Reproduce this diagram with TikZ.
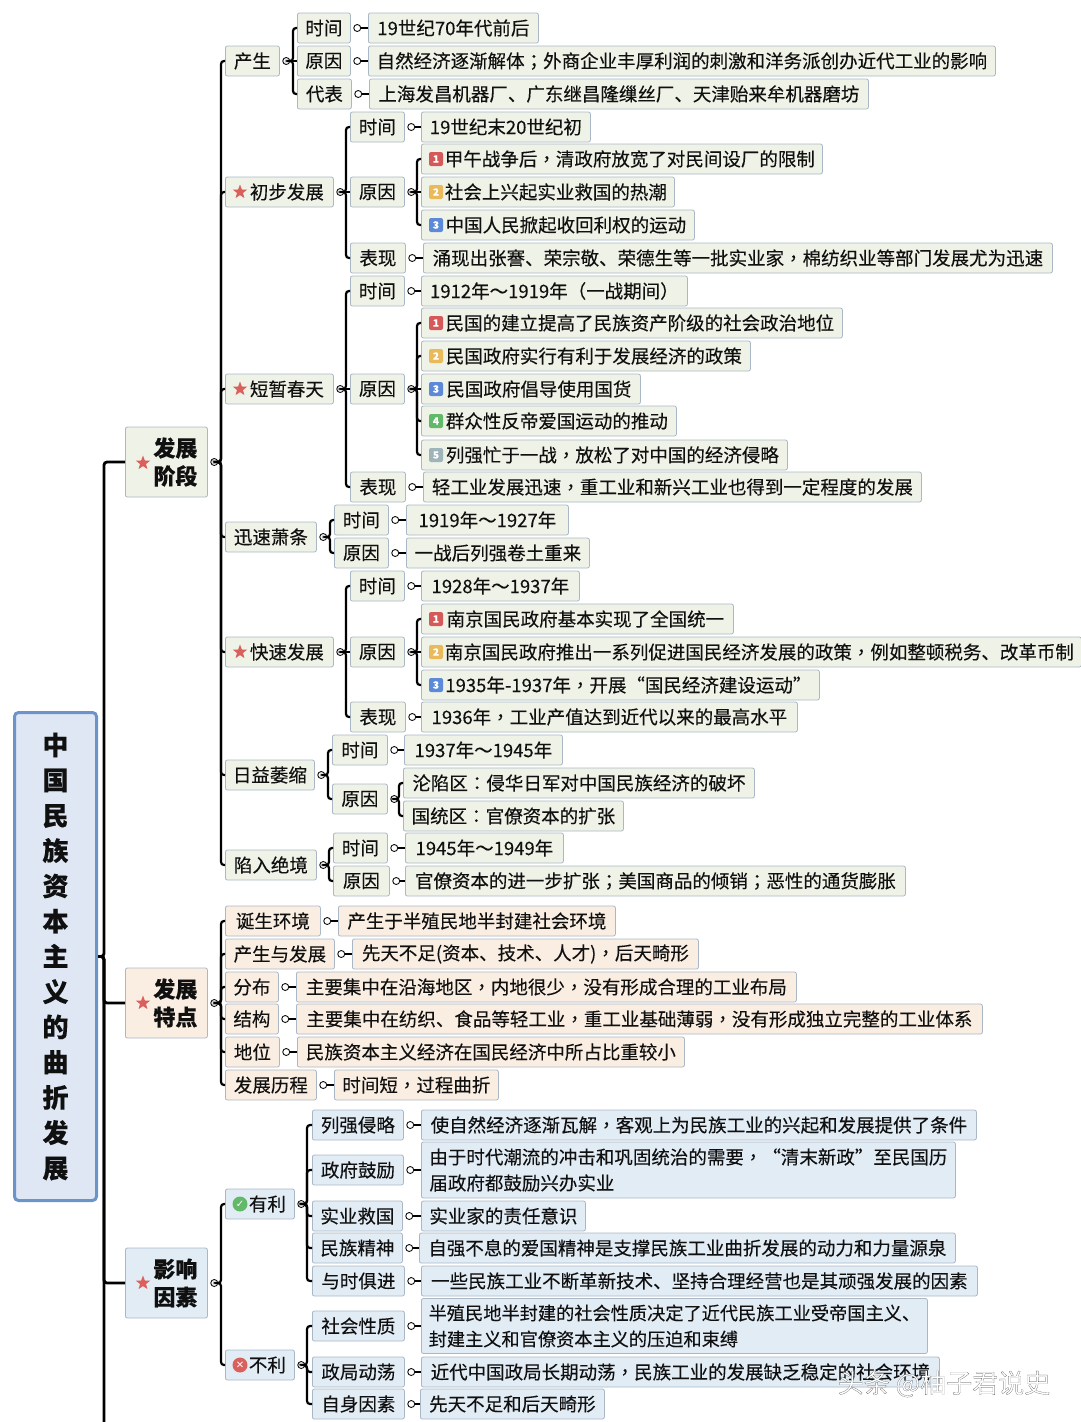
\documentclass[tikz,border=0pt]{standalone}
\usepackage{fontspec}
\setmainfont{Noto Sans CJK SC}[FakeBold=0.2]
\newfontfamily\symfont{DejaVu Sans}
\newfontfamily\tcfont{Noto Sans CJK TC}[FakeBold=0.2]
\newfontfamily\waterfont{Noto Sans CJK SC}[FakeBold=0.5]
\newcommand{\dou}{{\tcfont ，}}
\newcommand{\fen}{{\tcfont ；}}
\newcommand{\mao}{{\tcfont ：}}
\usetikzlibrary{positioning,calc,shapes.geometric}
\definecolor{ink}{HTML}{101010}
\definecolor{edgegrey}{HTML}{A9B7C6}
\definecolor{stagefill}{HTML}{EFF2E6}
\definecolor{traitfill}{HTML}{FAEEE3}
\definecolor{factorfill}{HTML}{E2ECF5}
\definecolor{rootfill}{HTML}{DEE7F3}
\definecolor{rootedge}{HTML}{6C94C8}
\definecolor{starred}{HTML}{D9605C}
\definecolor{prioA}{HTML}{D6595A}
\definecolor{prioB}{HTML}{E9B95A}
\definecolor{prioC}{HTML}{5D8AD8}
\definecolor{prioD}{HTML}{63B96A}
\definecolor{prioE}{HTML}{9FB3BB}
\tikzset{
  chip/.style={rounded corners=2pt,line width=0.8pt,draw=edgegrey,minimum height=30,inner xsep=2pt,inner ysep=0pt,anchor=west,text=ink},
  stage/.style={chip,fill=stagefill},
  trait/.style={chip,fill=traitfill},
  factor/.style={chip,fill=factorfill},
  major/.style={minimum width=82,minimum height=70,align=center,font=\fontsize{22}{28}\bfseries\selectfont},
  knob/.style={circle,draw=ink,fill=white,line width=0.9pt,inner sep=0pt,minimum size=7},
  limb/.style={draw=black,line width=2.8pt,rounded corners=3pt},
  twig/.style={draw=black,line width=2.2pt,rounded corners=3pt},
  starmark/.style={star,star points=5,star point ratio=2.4,fill=starred,inner sep=0pt,minimum size=15},
  prio/.style={rounded corners=2pt,fill=#1,minimum size=14,inner sep=0pt,text=white,font=\fontsize{10}{10}\bfseries\selectfont},
  mark/.style={circle,fill=#1,minimum size=15,inner sep=0pt,text=white,font=\fontsize{10}{10}\symfont}
}
% knob beside the parent, then one line to each kid (straight when level)
\newcommand{\branch}[3][4]{%
  \node[knob,right=2.5pt of #2] (#2K) {};
  \foreach \kid in {#3}{
    \path (#2K.east); \pgfgetlastxy{\kx}{\ky}
    \path (\kid.west); \pgfgetlastxy{\cx}{\cy}
    \pgfmathparse{abs(\ky-\cy)<1?1:0}
    \ifnum\pgfmathresult=1
      \draw[twig,sharp corners] (#2K.east) -- (\kid.west);
    \else
      \draw[twig] (#2K.east) -| ($(\kid.west)+(-#1,0)$) -- (\kid.west);
    \fi
  }
}
\begin{document}
\begin{tikzpicture}[x=1pt,y=-1pt,font=\fontsize{18.5}{26}\selectfont]
\useasboundingbox (0,0) rectangle (1080,1422);
% root
\node[rounded corners=4pt,draw=rootedge,line width=3pt,fill=rootfill,minimum width=82,minimum height=488,align=center,text=ink,font=\fontsize{26}{35.25}\bfseries\selectfont] (root) at (55.5,956.5) {中\\国\\民\\族\\资\\本\\主\\义\\的\\曲\\折\\发\\展};
\coordinate (rootEnd) at (104,1422);
% main stages
\node[stage,major] (kai) at (125,462) {\hspace*{18pt}发展\\\hspace*{18pt}阶段};
\node[trait,major] (te) at (125,1003) {\hspace*{18pt}发展\\\hspace*{18pt}特点};
\node[factor,major] (yin) at (125,1283) {\hspace*{18pt}影响\\\hspace*{18pt}因素};
\node[starmark] (kaiStar) at (143,463) {};
\node[starmark] (teStar) at (143,1003) {};
\node[starmark] (yinStar) at (143,1283) {};
% chansheng
\node[stage,minimum width=54] (chan) at (225,61) {产生};
\node[stage,minimum width=53] (chanT) at (297,28) {时间};
\node[stage,minimum width=53] (chanY) at (297,61) {原因};
\node[stage,minimum width=54] (chanD) at (297,94) {代表};
\node[stage,minimum width=170] (chanTx) at (368,28) {19世纪70年代前后};
\node[stage,minimum width=627] (chanYx) at (368,61) {自然经济逐渐解体\fen 外商企业丰厚利润的刺激和洋务派创办近代工业的影响};
\node[stage,minimum width=499] (chanDx) at (369,94) {上海发昌机器厂、广东继昌隆缫丝厂、天津贻来牟机器磨坊};
% chubu
\node[stage,minimum width=108] (chu) at (225,192) {\hspace*{15pt}初步发展};
\node[starmark] (chuStar) at (240,192) {};
\node[stage,minimum width=54] (chuT) at (350,127) {时间};
\node[stage,minimum width=54] (chuY) at (350,192) {原因};
\node[stage,minimum width=55] (chuB) at (350,258) {表现};
\node[stage,minimum width=169] (chuTx) at (421,127) {19世纪末20世纪初};
\node[stage,minimum width=401] (chuYa) at (421,159) {\hspace*{16pt}甲午战争后\dou 清政府放宽了对民间设厂的限制};
\node[stage,minimum width=253] (chuYb) at (421,192) {\hspace*{16pt}社会上兴起实业救国的热潮};
\node[stage,minimum width=273] (chuYc) at (421,225) {\hspace*{16pt}中国人民掀起收回利权的运动};
\node[stage,minimum width=629] (chuBx) at (423,258) {涌现出张謇、荣宗敬、荣德生等一批实业家\dou 棉纺织业等部门发展尤为迅速};
\node[prio=prioA] (chuYaTag) at (436,159) {1};
\node[prio=prioB] (chuYbTag) at (436,192) {2};
\node[prio=prioC] (chuYcTag) at (436,225) {3};
% chun
\node[stage,minimum width=108] (chun) at (225,389) {\hspace*{15pt}短暂春天};
\node[starmark] (chunStar) at (240,389) {};
\node[stage,minimum width=54] (chunT) at (350,291) {时间};
\node[stage,minimum width=54] (chunY) at (350,389) {原因};
\node[stage,minimum width=55] (chunB) at (350,487) {表现};
\node[stage,minimum width=266] (chunTx) at (421,291) {1912年～1919年（一战期间）};
\node[stage,minimum width=421] (chunYa) at (421,323) {\hspace*{16pt}民国的建立提高了民族资产阶级的社会政治地位};
\node[stage,minimum width=329] (chunYb) at (421,356) {\hspace*{16pt}民国政府实行有利于发展经济的政策};
\node[stage,minimum width=219] (chunYc) at (421,389) {\hspace*{16pt}民国政府倡导使用国货};
\node[stage,minimum width=255] (chunYd) at (421,421) {\hspace*{16pt}群众性反帝爱国运动的推动};
\node[stage,minimum width=366] (chunYe) at (421,455) {\hspace*{16pt}列强忙于一战\dou 放松了对中国的经济侵略};
\node[stage,minimum width=498] (chunBx) at (423,487) {轻工业发展迅速\dou 重工业和新兴工业也得到一定程度的发展};
\node[prio=prioA] (chunYaTag) at (436,323) {1};
\node[prio=prioB] (chunYbTag) at (436,356) {2};
\node[prio=prioC] (chunYcTag) at (436,389) {3};
\node[prio=prioD] (chunYdTag) at (436,421) {4};
\node[prio=prioE] (chunYeTag) at (436,455) {5};
% xiaotiao
\node[stage,minimum width=91] (xun) at (225,537) {迅速萧条};
\node[stage,minimum width=54] (xunT) at (334,520) {时间};
\node[stage,minimum width=54] (xunY) at (334,553) {原因};
\node[stage,minimum width=162] (xunTx) at (406,520) {1919年～1927年};
\node[stage,minimum width=183] (xunYx) at (406,553) {一战后列强卷土重来};
% kuaisu
\node[stage,minimum width=108] (kuai) at (225,652) {\hspace*{15pt}快速发展};
\node[starmark] (kuaiStar) at (240,652) {};
\node[stage,minimum width=54] (kuaiT) at (350,586) {时间};
\node[stage,minimum width=54] (kuaiY) at (350,652) {原因};
\node[stage,minimum width=55] (kuaiB) at (350,717) {表现};
\node[stage,minimum width=158] (kuaiTx) at (421,586) {1928年～1937年};
\node[stage,minimum width=312] (kuaiYa) at (421,619) {\hspace*{16pt}南京国民政府基本实现了全国统一};
\node[stage,minimum width=660] (kuaiYb) at (421,652) {\hspace*{16pt}南京国民政府推出一系列促进国民经济发展的政策\dou 例如整顿税务、改革币制};
\node[stage,minimum width=398] (kuaiYc) at (421,685) {\hspace*{16pt}1935年-1937年\dou 开展“国民经济建设运动”};
\node[stage,minimum width=376] (kuaiBx) at (421,717) {1936年\dou 工业产值达到近代以来的最高水平};
\node[prio=prioA] (kuaiYaTag) at (436,619) {1};
\node[prio=prioB] (kuaiYbTag) at (436,652) {2};
\node[prio=prioC] (kuaiYcTag) at (436,685) {3};
% weisuo
\node[stage,minimum width=89] (wei) at (225,775) {日益萎缩};
\node[stage,minimum width=55] (weiT) at (332,750) {时间};
\node[stage,minimum width=55] (weiY) at (332,799) {原因};
\node[stage,minimum width=158] (weiTx) at (404,750) {1937年～1945年};
\node[stage,minimum width=351] (weiYa) at (403,783) {沦陷区\mao 侵华日军对中国民族经济的破坏};
\node[stage,minimum width=220] (weiYb) at (403,816) {国统区\mao 官僚资本的扩张};
% juejing
\node[stage,minimum width=91] (jue) at (225,865) {陷入绝境};
\node[stage,minimum width=54] (jueT) at (333,848) {时间};
\node[stage,minimum width=56] (jueY) at (333,881) {原因};
\node[stage,minimum width=158] (jueTx) at (405,848) {1945年～1949年};
\node[stage,minimum width=500] (jueYx) at (405,881) {官僚资本的进一步扩张\fen 美国商品的倾销\fen 恶性的通货膨胀};
% tedian
\node[trait,minimum width=95] (dan) at (225,921) {诞生环境};
\node[trait,minimum width=109] (fa) at (225,954) {产生与发展};
\node[trait,minimum width=53] (fenbu) at (225,987) {分布};
\node[trait,minimum width=53] (jie) at (225,1019) {结构};
\node[trait,minimum width=54] (di) at (225,1052) {地位};
\node[trait,minimum width=91] (li) at (225,1085) {发展历程};
\node[trait,minimum width=277] (danx) at (338,921) {产生于半殖民地半封建社会环境};
\node[trait,minimum width=346] (fax) at (352,954) {先天不足(资本、技术、人才)\dou 后天畸形};
\node[trait,minimum width=500] (fenx) at (296,987) {主要集中在沿海地区\dou 内地很少\dou 没有形成合理的工业布局};
\node[trait,minimum width=686] (jiex) at (296,1019) {主要集中在纺织、食品等轻工业\dou 重工业基础薄弱\dou 没有形成独立完整的工业体系};
\node[trait,minimum width=387] (dix) at (297,1052) {民族资本主义经济在国民经济中所占比重较小};
\node[trait,minimum width=164] (lix) at (334,1085) {时间短\dou 过程曲折};
% youli
\node[factor,minimum width=69] (you) at (225,1204) {\hspace*{15pt}有利};
\node[mark=prioD] (youMark) at (240,1204) {✓};
\node[factor,minimum width=91] (qin) at (312,1125) {列强侵略};
\node[factor,minimum width=91] (zheng) at (312,1170) {政府鼓励};
\node[factor,minimum width=90] (shi) at (312,1216) {实业救国};
\node[factor,minimum width=90] (min) at (312,1248) {民族精神};
\node[factor,minimum width=92] (yu) at (312,1281) {与时俱进};
\node[factor,minimum width=555] (qinx) at (421,1125) {使自然经济逐渐瓦解\dou 客观上为民族工业的兴起和发展提供了条件};
\node[factor,minimum width=534,minimum height=56,align=left] (zhengx) at (421,1170) {由于时代潮流的冲击和巩固统治的需要\dou “清末新政”至民国历\\届政府都鼓励兴办实业};
\node[factor,minimum width=164] (shix) at (421,1216) {实业家的责任意识};
\node[factor,minimum width=536] (minx) at (419,1248) {自强不息的爱国精神是支撑民族工业曲折发展的动力和力量源泉};
\node[factor,minimum width=556] (yux) at (421,1281) {一些民族工业不断革新技术、坚持合理经营也是其顽强发展的因素};
% buli
\node[factor,minimum width=69] (bu) at (225,1365) {\hspace*{15pt}不利};
\node[mark=starred] (buMark) at (240,1365) {✕};
\node[factor,minimum width=92] (she) at (312,1326) {社会性质};
\node[factor,minimum width=92] (ju) at (312,1372) {政局动荡};
\node[factor,minimum width=92] (zi) at (312,1404) {自身因素};
\node[factor,minimum width=506,minimum height=55,align=left,font=\fontsize{18.2}{26}\selectfont] (shex) at (421,1326) {半殖民地半封建的社会性质决定了近代民族工业受帝国主义、\\封建主义和官僚资本主义的压迫和束缚};
\node[factor,minimum width=518] (jux) at (421,1372) {近代中国政局长期动荡\dou 民族工业的发展缺乏稳定的社会环境};
\node[factor,minimum width=184] (zix) at (420,1404) {先天不足和后天畸形};
% connectors
\foreach \kid in {kai,te,yin}
  \draw[limb] (root.east) -| ($(\kid.west)+(-21,0)$) -- (\kid.west);
\draw[limb] (root.east) -| (rootEnd);
\branch{kai}{chan,chu,chun,xun,kuai,wei,jue}
\branch{chan}{chanT,chanY,chanD}
\branch{chanT}{chanTx}
\branch{chanY}{chanYx}
\branch{chanD}{chanDx}
\branch{chu}{chuT,chuY,chuB}
\branch{chuT}{chuTx}
\branch{chuY}{chuYa,chuYb,chuYc}
\branch{chuB}{chuBx}
\branch{chun}{chunT,chunY,chunB}
\branch{chunT}{chunTx}
\branch{chunY}{chunYa,chunYb,chunYc,chunYd,chunYe}
\branch{chunB}{chunBx}
\branch{xun}{xunT,xunY}
\branch{xunT}{xunTx}
\branch{xunY}{xunYx}
\branch{kuai}{kuaiT,kuaiY,kuaiB}
\branch{kuaiT}{kuaiTx}
\branch{kuaiY}{kuaiYa,kuaiYb,kuaiYc}
\branch{kuaiB}{kuaiBx}
\branch{wei}{weiT,weiY}
\branch{weiT}{weiTx}
\branch{weiY}{weiYa,weiYb}
\branch{jue}{jueT,jueY}
\branch{jueT}{jueTx}
\branch{jueY}{jueYx}
\branch{te}{dan,fa,fenbu,jie,di,li}
\branch{dan}{danx}
\branch{fa}{fax}
\branch{fenbu}{fenx}
\branch{jie}{jiex}
\branch{di}{dix}
\branch{li}{lix}
\branch{yin}{you,bu}
\branch[5]{you}{qin,zheng,shi,min,yu}
\branch{qin}{qinx}
\branch{zheng}{zhengx}
\branch{shi}{shix}
\branch{min}{minx}
\branch{yu}{yux}
\branch[5]{bu}{she,ju,zi}
\branch{she}{shex}
\branch{ju}{jux}
\branch{zi}{zix}
% watermark
\node[text=white,font=\fontsize{26}{26}\waterfont] (water) at (944,1384) {\special{pdf:code 0.25 0.25 0.25 RG}头条 @柚子君说史};
\end{tikzpicture}
\end{document}
